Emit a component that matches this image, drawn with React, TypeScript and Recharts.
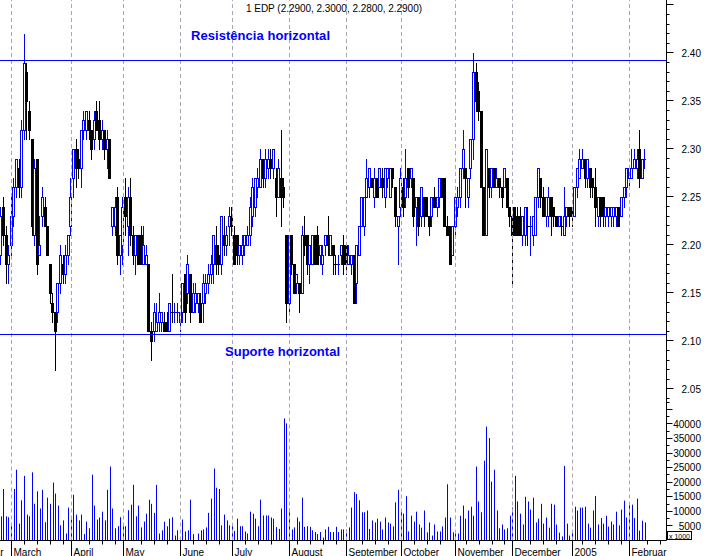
import React from 'react';
import { ComposedChart, Bar, XAxis, YAxis, ReferenceLine } from 'recharts';

// ---- daily prices (Feb 23 2004 .. Feb 2005) ----
const openP = [
  2.19,2.24,2.21,2.18,2.20,2.23,2.26,2.28,2.26,2.32,
  2.38,2.34,2.31,2.21,2.29,2.19,2.23,2.24,2.22,2.18,
  2.14,2.13,2.13,2.16,2.18,2.17,2.19,2.22,2.27,2.30,
  2.29,2.28,2.32,2.32,2.33,2.32,2.31,2.34,2.33,2.31,
  2.32,2.30,2.31,2.22,2.22,2.25,2.19,2.20,2.25,2.22,
  2.25,2.21,2.19,2.21,2.21,2.18,2.18,2.18,2.11,2.11,
  2.11,2.12,2.12,2.12,2.12,2.11,2.13,2.13,2.13,2.12,
  2.13,2.17,2.15,2.17,2.13,2.14,2.14,2.14,2.14,2.15,
  2.16,2.17,2.18,2.20,2.19,2.18,2.21,2.20,2.22,2.23,
  2.21,2.21,2.19,2.19,2.20,2.20,2.21,2.23,2.24,2.26,
  2.26,2.29,2.27,2.28,2.29,2.28,2.27,2.25,2.27,2.26,
  2.21,2.14,2.21,2.18,2.16,2.16,2.15,2.21,2.21,2.18,
  2.18,2.21,2.21,2.19,2.18,2.20,2.21,2.19,2.20,2.18,
  2.18,2.19,2.20,2.20,2.18,2.18,2.19,2.16,2.19,2.22,
  2.22,2.25,2.26,2.27,2.25,2.27,2.26,2.27,2.25,2.27,
  2.25,2.28,2.26,2.22,2.24,2.26,2.25,2.28,2.27,2.27,
  2.24,2.25,2.23,2.25,2.25,2.23,2.23,2.25,2.24,2.25,
  2.27,2.27,2.22,2.22,2.19,2.22,2.24,2.25,2.28,2.28,
  2.25,2.28,2.31,2.38,2.36,2.34,2.26,2.21,2.28,2.26,
  2.28,2.26,2.27,2.26,2.26,2.27,2.24,2.23,2.24,2.23,
  2.23,2.21,2.21,2.22,2.22,2.21,2.21,2.25,2.27,2.25,
  2.23,2.23,2.25,2.24,2.23,2.22,2.22,2.21,2.23,2.24,
  2.24,2.23,2.26,2.27,2.28,2.29,2.27,2.28,2.27,2.26,
  2.23,2.25,2.25,2.23,2.23,2.23,2.23,2.23,2.24,2.23,
  2.25,2.26,2.27,2.27,2.28,2.28,2.30,2.27,2.29,
];
const highP = [
  2.24,2.25,2.22,2.20,2.25,2.27,2.29,2.29,2.33,2.42,
  2.39,2.35,2.31,2.29,2.29,2.23,2.26,2.25,2.22,2.18,
  2.15,2.13,2.16,2.20,2.19,2.20,2.21,2.27,2.30,2.31,
  2.30,2.32,2.34,2.34,2.34,2.32,2.34,2.35,2.35,2.33,
  2.32,2.32,2.31,2.24,2.25,2.26,2.21,2.25,2.27,2.26,
  2.27,2.22,2.21,2.21,2.22,2.22,2.20,2.18,2.12,2.14,
  2.14,2.15,2.13,2.13,2.13,2.14,2.17,2.14,2.14,2.13,
  2.16,2.17,2.19,2.17,2.16,2.16,2.15,2.15,2.17,2.17,
  2.18,2.19,2.21,2.22,2.20,2.23,2.23,2.22,2.24,2.24,
  2.22,2.21,2.20,2.21,2.21,2.22,2.25,2.27,2.27,2.28,
  2.30,2.29,2.30,2.30,2.30,2.30,2.28,2.29,2.32,2.27,
  2.21,2.21,2.21,2.18,2.17,2.16,2.22,2.23,2.21,2.20,
  2.21,2.21,2.22,2.20,2.20,2.21,2.23,2.21,2.20,2.19,
  2.19,2.20,2.21,2.20,2.20,2.19,2.19,2.20,2.22,2.25,
  2.25,2.29,2.28,2.27,2.28,2.27,2.28,2.28,2.28,2.28,
  2.28,2.28,2.26,2.23,2.28,2.27,2.30,2.28,2.28,2.27,
  2.25,2.25,2.26,2.25,2.25,2.23,2.25,2.26,2.25,2.27,
  2.27,2.27,2.23,2.22,2.22,2.25,2.26,2.28,2.32,2.28,
  2.27,2.31,2.40,2.39,2.37,2.34,2.26,2.30,2.28,2.28,
  2.28,2.28,2.27,2.26,2.28,2.27,2.24,2.23,2.24,2.24,
  2.24,2.23,2.24,2.24,2.23,2.23,2.25,2.28,2.27,2.26,
  2.25,2.26,2.25,2.24,2.23,2.23,2.23,2.26,2.24,2.24,
  2.24,2.26,2.28,2.30,2.30,2.29,2.29,2.28,2.27,2.28,
  2.25,2.25,2.25,2.24,2.24,2.24,2.24,2.24,2.24,2.25,
  2.26,2.28,2.28,2.30,2.30,2.30,2.32,2.29,2.30,
];
const lowP = [
  2.18,2.20,2.16,2.16,2.19,2.22,2.25,2.25,2.25,2.31,
  2.31,2.31,2.21,2.20,2.17,2.19,2.22,2.22,2.19,2.14,
  2.12,2.07,2.12,2.15,2.16,2.16,2.18,2.21,2.25,2.26,
  2.27,2.26,2.31,2.31,2.31,2.29,2.30,2.32,2.30,2.30,
  2.29,2.28,2.27,2.21,2.21,2.18,2.17,2.18,2.21,2.19,
  2.20,2.18,2.17,2.18,2.18,2.18,2.18,2.11,2.08,2.10,
  2.11,2.11,2.11,2.11,2.11,2.11,2.12,2.12,2.12,2.11,
  2.12,2.12,2.14,2.12,2.13,2.13,2.13,2.12,2.12,2.14,
  2.15,2.16,2.16,2.17,2.17,2.17,2.19,2.19,2.20,2.21,
  2.18,2.18,2.18,2.18,2.19,2.20,2.20,2.22,2.23,2.25,
  2.26,2.26,2.26,2.27,2.27,2.27,2.23,2.25,2.22,2.24,
  2.12,2.13,2.17,2.15,2.15,2.13,2.15,2.19,2.17,2.16,
  2.18,2.18,2.18,2.18,2.17,2.19,2.19,2.19,2.17,2.17,
  2.17,2.18,2.17,2.17,2.18,2.17,2.14,2.14,2.19,2.22,
  2.21,2.25,2.25,2.26,2.24,2.25,2.26,2.25,2.24,2.26,
  2.25,2.26,2.22,2.18,2.23,2.23,2.24,2.25,2.26,2.22,
  2.20,2.21,2.22,2.22,2.23,2.21,2.22,2.24,2.23,2.24,
  2.25,2.22,2.21,2.18,2.19,2.21,2.23,2.24,2.27,2.24,
  2.24,2.27,2.29,2.34,2.33,2.26,2.21,2.21,2.25,2.25,
  2.26,2.26,2.25,2.24,2.26,2.24,2.22,2.16,2.21,2.21,
  2.21,2.20,2.20,2.20,2.19,2.20,2.21,2.24,2.24,2.23,
  2.22,2.22,2.21,2.22,2.22,2.22,2.21,2.21,2.22,2.22,
  2.22,2.23,2.25,2.27,2.28,2.26,2.26,2.25,2.25,2.22,
  2.22,2.22,2.22,2.22,2.22,2.22,2.22,2.22,2.22,2.23,
  2.24,2.25,2.26,2.27,2.28,2.27,2.26,2.27,2.28,
];
const closeP = [
  2.23,2.21,2.18,2.19,2.23,2.26,2.29,2.26,2.32,2.39,
  2.35,2.32,2.22,2.28,2.18,2.20,2.25,2.22,2.19,2.15,
  2.13,2.11,2.16,2.19,2.17,2.19,2.21,2.25,2.30,2.28,
  2.28,2.32,2.33,2.34,2.32,2.30,2.33,2.32,2.31,2.32,
  2.30,2.31,2.27,2.24,2.24,2.19,2.21,2.24,2.23,2.25,
  2.21,2.19,2.21,2.18,2.18,2.20,2.19,2.11,2.10,2.13,
  2.12,2.13,2.13,2.11,2.11,2.14,2.13,2.13,2.13,2.13,
  2.16,2.13,2.18,2.13,2.15,2.15,2.15,2.12,2.16,2.16,
  2.17,2.18,2.21,2.18,2.18,2.23,2.20,2.21,2.23,2.22,
  2.18,2.19,2.20,2.20,2.21,2.21,2.24,2.26,2.27,2.27,
  2.29,2.27,2.29,2.29,2.28,2.30,2.25,2.28,2.25,2.25,
  2.14,2.21,2.18,2.15,2.17,2.15,2.21,2.20,2.18,2.20,
  2.21,2.18,2.18,2.20,2.19,2.21,2.20,2.21,2.19,2.18,
  2.18,2.20,2.18,2.18,2.19,2.19,2.14,2.20,2.22,2.25,
  2.25,2.27,2.28,2.26,2.27,2.25,2.28,2.26,2.28,2.28,
  2.28,2.27,2.23,2.23,2.27,2.24,2.27,2.26,2.28,2.23,
  2.25,2.22,2.26,2.23,2.23,2.22,2.25,2.24,2.25,2.27,
  2.25,2.22,2.21,2.18,2.22,2.25,2.25,2.28,2.30,2.27,
  2.27,2.31,2.38,2.35,2.34,2.26,2.21,2.30,2.26,2.28,
  2.26,2.27,2.26,2.25,2.28,2.24,2.23,2.21,2.21,2.21,
  2.21,2.23,2.24,2.22,2.22,2.23,2.25,2.28,2.25,2.23,
  2.25,2.25,2.23,2.23,2.22,2.23,2.22,2.23,2.24,2.23,
  2.23,2.26,2.28,2.29,2.29,2.27,2.29,2.26,2.26,2.24,
  2.25,2.23,2.23,2.24,2.24,2.24,2.24,2.24,2.22,2.25,
  2.26,2.28,2.28,2.28,2.29,2.29,2.27,2.29,2.29,
];
// ---- daily volume (axis units, x 1000) ----
const volume = [
  8300,17700,8300,8000,5800,17700,24300,5800,13800,22200,
  8900,8300,23400,12600,16900,11000,17400,6300,14700,12600,
  19900,16100,12000,5200,6900,2400,11300,7200,15700,8900,
  6900,8900,2200,6500,4200,22600,12000,7200,7900,9900,
  6900,17400,25400,11000,4200,4900,8000,4900,4900,10400,
  12300,19100,8300,12000,4500,6500,9200,14000,12600,9500,
  19100,2400,3500,6500,4900,7500,8000,1700,3500,1000,
  7200,3100,3500,14000,2200,0,2400,3500,3800,4500,
  9500,14400,24700,18100,17700,5200,8900,6900,5200,5600,
  3300,7500,4900,4900,3100,2400,9900,9200,7500,4900,
  14000,8600,8600,8600,7900,7500,4600,4000,11000,41900,
  40200,11000,3800,4500,7900,6500,14700,4700,4900,4700,
  3500,2900,2200,2900,1000,3800,4700,2900,2900,4700,
  2900,3800,3800,3800,4500,11300,16600,16000,13800,9700,
  9700,10300,4000,6900,6200,7500,6500,3800,7900,6200,
  5800,4800,13100,17400,9900,9200,15200,3100,8500,6500,
  9900,5500,4400,10300,2800,6200,1700,5500,3100,3100,
  4800,7900,19300,7900,2800,2400,2400,8500,12000,7500,
  10300,11600,8500,25400,13400,9700,27400,39100,35200,20200,
  24300,10300,4200,5500,3800,4200,8500,11300,22200,13400,
  9200,5500,15000,13400,10600,14700,6200,7500,12600,5800,
  7900,4400,12600,12300,5500,2700,1400,25600,5800,1700,
  3100,11600,10300,11300,11300,11600,5800,4400,10300,15300,
  5500,7700,5800,8500,4800,6500,5500,9900,5200,10600,
  13700,7900,13000,12300,7700,14400,3400,6800,6200,
];

// ---- calendar / labels ----
const monthNames = ['Februar', 'March', 'April', 'May', 'June', 'July', 'August', 'September', 'October', 'November', 'December', '2005', 'Februar'];
const monthStart = [0, 5, 28, 48, 70, 90, 112, 134, 155, 176, 198, 221, 243];
const priceLabels = [2.05, 2.1, 2.15, 2.2, 2.25, 2.3, 2.35, 2.4];
const volumeLabels = [5000, 10000, 15000, 20000, 25000, 30000, 35000, 40000];
const resistance = 2.3925;
const support = 2.107;

const FONT = '"Liberation Sans", Arial, Helvetica, sans-serif';
const BLUE = '#0000ff';
const xDomain: [number, number] = [-0.385, 256.3];
const priceDomain: [number, number] = [2.0385, 2.4552];
const volDomain: [number, number] = [0, 48240];

const rows = openP.map((o, i) => {
  const h = Math.max(highP[i], o, closeP[i]);
  const l = Math.min(lowP[i], o, closeP[i]);
  return { i, o, h, l, c: closeP[i], pc: i > 0 ? closeP[i - 1] : o, range: [l, h], v: volume[i] };
});

// month boundaries sit just left of the first bar of each month
const monthLines = monthStart.slice(1).map((s) => s - 0.9);
const weekLines: number[] = [];
for (let s = 5; s < 257; s += 5) {
  const p = s - 0.9;
  if (!monthLines.some((m) => Math.abs(m - p) < 2.5)) weekLines.push(p);
}
const xTicks = [xDomain[0], ...monthLines, ...weekLines].sort((a, b) => a - b);

const priceTicks: number[] = [];
for (let k = 204; k <= 245; k++) priceTicks.push(k / 100);
const volTicks: number[] = [];
for (let k = 2; k <= 19; k++) volTicks.push(k * 2500);

function Candle(props: any) {
  const { x, y, width, height, payload } = props;
  if (x == null || y == null || !payload) return null;
  const { o, h, l, c, pc } = payload;
  const top = Math.min(y, y + height);
  const hgt = Math.abs(height);
  const span = h - l;
  const py = (v: number) => (span > 0 ? top + ((h - v) / span) * hgt : top);
  const cx = Math.round(x + width / 2 - 0.5);
  const up = c > o || (c === o && c >= pc);
  const col = up ? BLUE : '#000000';
  const yHi = Math.round(top);
  const yLo = Math.round(top + hgt);
  const bTop = Math.round(py(Math.max(o, c)));
  const bBot = Math.round(py(Math.min(o, c)));
  let body;
  if (bBot - bTop < 1) {
    body = <line x1={cx - 1} x2={cx + 2} y1={bTop + 0.5} y2={bTop + 0.5} stroke={col} strokeWidth={1} />;
  } else if (up) {
    body = <rect x={cx - 0.5} y={bTop + 0.5} width={2} height={bBot - bTop} fill="#ffffff" stroke={col} strokeWidth={1} />;
  } else {
    body = <rect x={cx - 1} y={bTop} width={3} height={bBot - bTop + 1} fill={col} />;
  }
  return (
    <g>
      <line x1={cx + 0.5} x2={cx + 0.5} y1={yHi} y2={yLo + 1} stroke={col} strokeWidth={1} />
      {body}
    </g>
  );
}

function VolBar(props: any) {
  const { x, y, width, height } = props;
  if (x == null || !height || height <= 0) return null;
  const cx = Math.round(x + width / 2 - 0.5);
  return <rect x={cx} y={y} width={1} height={height} fill={BLUE} />;
}

function VDash(p: any) {
  const xx = Math.round(p.x1 - 0.5) + 0.5;
  return <line x1={xx} x2={xx} y1={p.y1} y2={p.y2} stroke="#a9a4b4" strokeWidth={1} strokeDasharray="4 3" />;
}

function HLine(p: any) {
  const yy = Math.round(p.y1 - 0.5) + 0.5;
  return <line x1={p.x1} x2={p.x2} y1={yy} y2={yy} stroke={BLUE} strokeWidth={1} />;
}

function PriceTick(props: any) {
  const { x, y, payload } = props;
  const v = payload.value as number;
  const major = Math.abs(Math.round(v * 20) - v * 20) < 1e-6;
  const labeled = priceLabels.some((p) => Math.abs(p - v) < 1e-6);
  const yy = Math.round(y - 0.5) + 0.5;
  return (
    <g>
      <line x1={x} x2={x + (major ? 7 : 3)} y1={yy} y2={yy} stroke="#000" strokeWidth={1} />
      {labeled && (
        <text x={701} y={y + 3.6} textAnchor="end" fontSize={10} fontFamily={FONT} fill="#000">
          {v.toFixed(2)}
        </text>
      )}
    </g>
  );
}

function VolTick(props: any) {
  const { x, y, payload } = props;
  const v = payload.value as number;
  const major = v % 5000 === 0;
  const labeled = volumeLabels.includes(v);
  const yy = Math.round(y - 0.5) + 0.5;
  return (
    <g>
      <line x1={x} x2={x + (major ? 6 : 3)} y1={yy} y2={yy} stroke="#000" strokeWidth={1} />
      {labeled && (
        <text x={701} y={y + 3.6} textAnchor="end" fontSize={10} fontFamily={FONT} fill="#000">
          {v}
        </text>
      )}
    </g>
  );
}

function XTick(props: any) {
  const { x, y, payload } = props;
  const v = payload.value as number;
  const xx = Math.round(x - 0.5) + 0.5;
  if (Math.abs(v - xDomain[0]) < 1e-6) {
    return (
      <text x={x + 3.5} y={y + 15} textAnchor="end" fontSize={10} fontFamily={FONT} fill="#000">
        {monthNames[0]}
      </text>
    );
  }
  const mi = monthLines.findIndex((m) => Math.abs(m - v) < 1e-6);
  if (mi >= 0) {
    return (
      <g>
        <line x1={xx} x2={xx} y1={y} y2={y + 16} stroke="#000" strokeWidth={1} />
        <text x={xx + 2} y={y + 15} fontSize={10} fontFamily={FONT} fill="#000">
          {monthNames[mi + 1]}
        </text>
      </g>
    );
  }
  return <line x1={xx} x2={xx} y1={y} y2={y + 4} stroke="#000" strokeWidth={1} />;
}

const fmt = (v: number) => v.toFixed(4);
const last = openP.length - 1;
const titleText = `1 EDP (${fmt(openP[last])}, ${fmt(highP[last])}, ${fmt(lowP[last])}, ${fmt(closeP[last])})`;

export default function App() {
  return (
    <div style={{ position: 'absolute', left: 0, top: 0, width: 707, height: 556, background: '#ffffff', overflow: 'hidden' }}>
      <div style={{ position: 'absolute', left: 0, top: 0 }}>
        <ComposedChart width={707} height={400} data={rows} margin={{ top: 0, right: 0, bottom: 0, left: 0 }}>
          <XAxis dataKey="i" type="number" domain={xDomain} hide allowDataOverflow />
          <YAxis
            orientation="right"
            width={40.5}
            domain={priceDomain}
            allowDataOverflow
            ticks={priceTicks}
            interval={0}
            tickSize={0}
            tickMargin={0}
            tickLine={false}
            axisLine={{ stroke: '#000' }}
            tick={<PriceTick />}
          />
          {monthLines.map((m) => (
            <ReferenceLine key={'pm' + m} x={m} shape={VDash} />
          ))}
          <ReferenceLine y={resistance} shape={HLine} />
          <ReferenceLine y={support} shape={HLine} />
          <Bar dataKey="range" shape={Candle} barSize={3} isAnimationActive={false} />
        </ComposedChart>
      </div>
      <div style={{ position: 'absolute', left: 0, top: 400 }}>
        <ComposedChart width={707} height={156} data={rows} margin={{ top: 0, right: 0, bottom: 0, left: 0 }}>
          <XAxis
            dataKey="i"
            type="number"
            domain={xDomain}
            allowDataOverflow
            height={15.5}
            ticks={xTicks}
            interval={0}
            tickSize={0}
            tickMargin={0}
            tickLine={false}
            axisLine={{ stroke: '#000' }}
            tick={<XTick />}
          />
          <YAxis
            orientation="right"
            width={40.5}
            domain={volDomain}
            allowDataOverflow
            ticks={volTicks}
            interval={0}
            tickSize={0}
            tickMargin={0}
            tickLine={false}
            axisLine={{ stroke: '#000' }}
            tick={<VolTick />}
          />
          {monthLines.map((m) => (
            <ReferenceLine key={'vm' + m} x={m} shape={VDash} />
          ))}
          <Bar dataKey="v" shape={VolBar} barSize={1} isAnimationActive={false} />
        </ComposedChart>
      </div>
      <svg width={707} height={556} style={{ position: 'absolute', left: 0, top: 0, pointerEvents: 'none' }}>
        <text x={246} y={12} fontSize={10} fontFamily={FONT} fill="#000" textLength={176} lengthAdjust="spacing">
          {titleText}
        </text>
        <text x={191} y={39.5} fontSize={13} fontWeight="bold" fontFamily={FONT} fill={BLUE} textLength={139} lengthAdjust="spacing">
          Resistência horizontal
        </text>
        <text x={225} y={355.5} fontSize={13} fontWeight="bold" fontFamily={FONT} fill={BLUE} textLength={115} lengthAdjust="spacing">
          Suporte horizontal
        </text>
        <rect x={667.5} y={531.5} width={24} height={8} fill="#ffffff" stroke="#000" strokeWidth={1} />
        <text x={669} y={538.5} fontSize={7} fontFamily={FONT} fill="#000">
          x 1000
        </text>
      </svg>
    </div>
  );
}
